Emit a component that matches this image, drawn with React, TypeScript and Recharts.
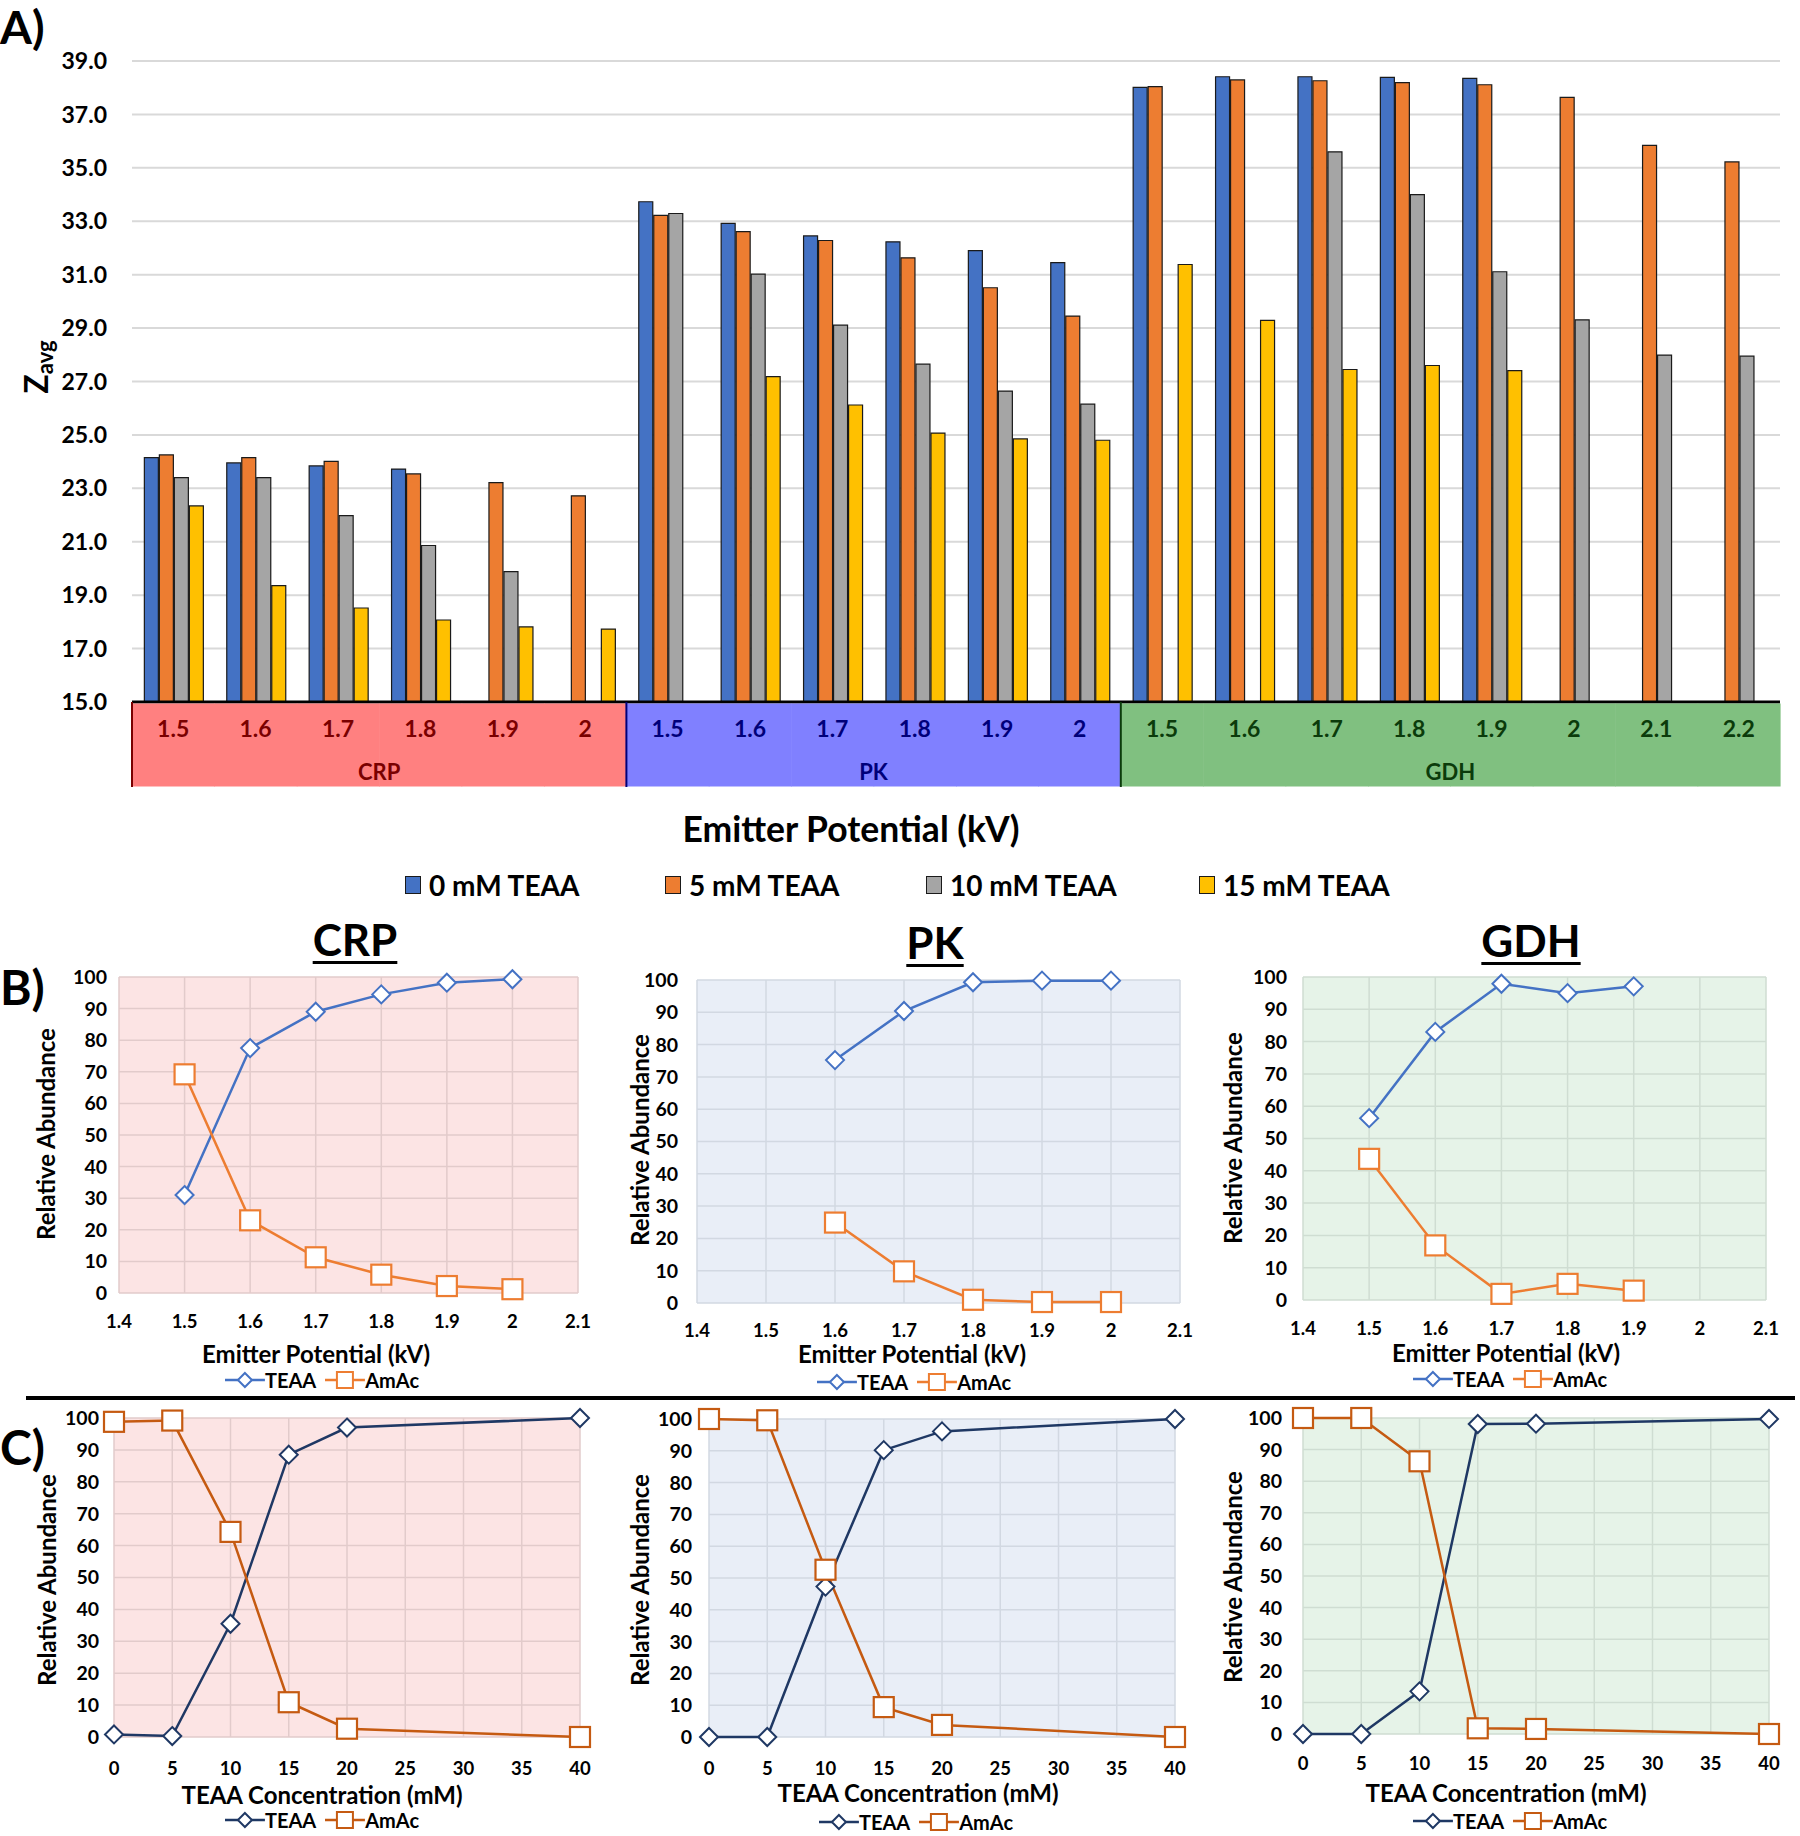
import React from "react";
import { BarChart, Bar, LineChart, Line, XAxis, YAxis, CartesianGrid } from "recharts";

const FONT = "Lato, 'Open Sans', sans-serif";

// ---------- Panel A: Zavg vs emitter potential ----------
const groupNames = ["CRP", "PK", "GDH"];
const crpKv = ["1.5", "1.6", "1.7", "1.8", "1.9", "2"];
const pkKv = ["1.5", "1.6", "1.7", "1.8", "1.9", "2"];
const gdhKv = ["1.5", "1.6", "1.7", "1.8", "1.9", "2", "2.1", "2.2"];

const crp0 = [24.15, 23.95, 23.84, 23.72, null, null];
const crp5 = [24.25, 24.15, 24.01, 23.54, 23.21, 22.72];
const crp10 = [23.4, 23.4, 21.98, 20.86, 19.88, null];
const crp15 = [22.34, 19.36, 18.52, 18.07, 17.81, 17.73];

const pk0 = [33.73, 32.92, 32.45, 32.23, 31.9, 31.45];
const pk5 = [33.22, 32.61, 32.28, 31.63, 30.51, 29.45];
const pk10 = [33.29, 31.02, 29.11, 27.65, 26.64, 26.15];
const pk15 = [null, 27.18, 26.12, 25.07, 24.85, 24.8];

const gdh0 = [38.01, 38.41, 38.41, 38.39, 38.35, null, null, null];
const gdh5 = [38.04, 38.29, 38.26, 38.19, 38.11, 37.64, 35.84, 35.22];
const gdh10 = [null, null, 35.6, 34.0, 31.11, 29.31, 27.99, 27.95];
const gdh15 = [31.38, 29.29, 27.45, 27.6, 27.41, null, null, null];

const zTicks = [15, 17, 19, 21, 23, 25, 27, 29, 31, 33, 35, 37, 39];
const teaaLevels = ["0 mM TEAA", "5 mM TEAA", "10 mM TEAA", "15 mM TEAA"];
const barColors = ["#4472C4", "#ED7D31", "#A5A5A5", "#FFC000"];
const barKeys = ["t0", "t5", "t10", "t15"];

const bandFill: Record<string, string> = { CRP: "#FF8080", PK: "#8080FF", GDH: "#80C080" };
const bandText: Record<string, string> = { CRP: "#7A0000", PK: "#00007A", GDH: "#0B3B0B" };

const groupKv = [crpKv, pkKv, gdhKv];
const zavg: Record<string, (number | null)[][]> = {
  CRP: [crp0, crp5, crp10, crp15],
  PK: [pk0, pk5, pk10, pk15],
  GDH: [gdh0, gdh5, gdh10, gdh15],
};

const barRows = groupNames.flatMap((g, gi) =>
  groupKv[gi].map((kv, i) => ({
    key: `${g} ${kv}`,
    group: g,
    kv,
    pos: i,
    n: groupKv[gi].length,
    t0: zavg[g][0][i],
    t5: zavg[g][1][i],
    t10: zavg[g][2][i],
    t15: zavg[g][3][i],
  }))
);

// ---------- Panel B: relative abundance vs emitter potential ----------
const kvTicks = [1.4, 1.5, 1.6, 1.7, 1.8, 1.9, 2, 2.1];
const abundTicks = [0, 10, 20, 30, 40, 50, 60, 70, 80, 90, 100];

const crpKvB = [1.5, 1.6, 1.7, 1.8, 1.9, 2];
const crpTeaaB = [31, 77.5, 89, 94.5, 98.2, 99.3];
const crpAmacB = [69.2, 23, 11.3, 5.8, 2.2, 1.2];

const pkKvB = [1.6, 1.7, 1.8, 1.9, 2];
const pkTeaaB = [75.2, 90.4, 99.3, 99.8, 99.8];
const pkAmacB = [24.9, 9.8, 1.0, 0.3, 0.3];

const gdhKvB = [1.5, 1.6, 1.7, 1.8, 1.9];
const gdhTeaaB = [56.3, 83, 97.9, 95, 97.1];
const gdhAmacB = [43.7, 16.9, 1.9, 5, 2.9];

// ---------- Panel C: relative abundance vs TEAA concentration ----------
const concTicks = [0, 5, 10, 15, 20, 25, 30, 35, 40];
const teaaConc = [0, 5, 10, 15, 20, 40];

const crpTeaaC = [0.8, 0.3, 35.5, 88.5, 97, 100];
const crpAmacC = [98.8, 99.2, 64.3, 10.9, 2.6, 0];
const pkTeaaC = [0, 0, 47.3, 90.2, 96.1, 100];
const pkAmacC = [100, 99.6, 52.6, 9.4, 3.8, 0];
const gdhTeaaC = [0, 0, 13.5, 98.1, 98.2, 99.7];
const gdhAmacC = [100, 100, 86.3, 1.8, 1.6, 0];

// ---------- helpers ----------
const BandTick = (props: any) => {
  const { x, y, payload } = props;
  const idx = payload?.index ?? props.index;
  const row = barRows[idx];
  if (!row) return <g />;
  const half = payload?.offset ?? 41.2;
  const col = bandText[row.group];
  const labelPos = Math.floor(row.n / 2);
  return (
    <g>
      <rect x={x - half} y={y + 1.5} width={half * 2 + 0.6} height={83} fill={bandFill[row.group]} />
      {row.pos === 0 && <line x1={x - half} x2={x - half} y1={y} y2={y + 85} stroke={col} strokeWidth={2} />}
      <text x={x} y={y + 26} textAnchor="middle" dominantBaseline="central" fontSize={23} fontWeight={700} fill={col}>
        {row.kv}
      </text>
      {row.pos === labelPos && (
        <text
          x={row.n % 2 === 0 ? x - half : x}
          y={y + 69}
          textAnchor="middle"
          dominantBaseline="central"
          fontSize={22}
          fontWeight={700}
          fill={col}
        >
          {row.group}
        </text>
      )}
    </g>
  );
};

const diamondDot = (color: string) => (p: any) => {
  const { cx, cy, index } = p;
  if (cx == null || cy == null) return <g key={`dd-${index}`} />;
  return (
    <path
      key={`dd-${index}`}
      d={`M${cx},${cy - 9}L${cx + 9},${cy}L${cx},${cy + 9}L${cx - 9},${cy}Z`}
      fill="#fff"
      stroke={color}
      strokeWidth={2}
    />
  );
};

const squareDot = (color: string) => (p: any) => {
  const { cx, cy, index } = p;
  if (cx == null || cy == null) return <g key={`sq-${index}`} />;
  return <rect key={`sq-${index}`} x={cx - 10} y={cy - 10} width={20} height={20} fill="#fff" stroke={color} strokeWidth={2.2} />;
};

const Txt = ({ x, y, size, rotate, style, children }: any) => (
  <div
    style={{
      position: "absolute",
      left: x,
      top: y,
      transform: `translate(-50%, -50%)${rotate ? " rotate(-90deg)" : ""}`,
      fontSize: size,
      fontWeight: 700,
      whiteSpace: "nowrap",
      lineHeight: 1,
      ...style,
    }}
  >
    {children}
  </div>
);

const LineLegend = ({ x, y, teaaColor, amacColor }: any) => (
  <div
    style={{
      position: "absolute",
      left: x,
      top: y,
      transform: "translate(-50%, -50%)",
      display: "flex",
      alignItems: "center",
      fontSize: 20,
      fontWeight: 700,
      whiteSpace: "nowrap",
      lineHeight: 1,
    }}
  >
    <svg width={40} height={20}>
      <line x1={0} x2={40} y1={10} y2={10} stroke={teaaColor} strokeWidth={2.5} />
      <path d="M20,3L27,10L20,17L13,10Z" fill="#fff" stroke={teaaColor} strokeWidth={2} />
    </svg>
    <span style={{ marginRight: 9 }}>TEAA</span>
    <svg width={40} height={20}>
      <line x1={0} x2={40} y1={10} y2={10} stroke={amacColor} strokeWidth={2.5} />
      <rect x={12} y={2} width={16} height={16} fill="#fff" stroke={amacColor} strokeWidth={2} />
    </svg>
    <span>AmAc</span>
  </div>
);

type SmallProps = {
  plot: [number, number, number, number];
  xs: number[];
  teaa: number[];
  amac: number[];
  xDomain: [number, number];
  xTicks: number[];
  bg: string;
  grid: string;
  teaaColor: string;
  amacColor: string;
  yGap: number;
  xGap: number;
};

function SmallChart(p: SmallProps) {
  const [x0, y0, x1, y1] = p.plot;
  const YW = 80;
  const XH = 50;
  const PAD = 14;
  const rows = p.xs.map((x, i) => ({ x, teaa: p.teaa[i], amac: p.amac[i] }));
  return (
    <div style={{ position: "absolute", left: x0 - YW, top: y0 - PAD }}>
      <LineChart
        width={x1 - x0 + YW + PAD}
        height={y1 - y0 + PAD + XH}
        data={rows}
        margin={{ top: PAD, right: PAD, bottom: 0, left: 0 }}
      >
        <CartesianGrid fill={p.bg} stroke={p.grid} strokeWidth={1.5} />
        <XAxis
          type="number"
          dataKey="x"
          domain={p.xDomain}
          ticks={p.xTicks}
          interval={0}
          tickFormatter={(v) => String(v)}
          axisLine={false}
          tickLine={false}
          tickSize={0}
          tickMargin={p.xGap}
          height={XH}
          tick={{ fontSize: 18.5, fontWeight: 700, fill: "#000" }}
        />
        <YAxis
          type="number"
          domain={[0, 100]}
          ticks={abundTicks}
          interval={0}
          axisLine={false}
          tickLine={false}
          tickSize={0}
          tickMargin={p.yGap}
          width={YW}
          tick={{ fontSize: 19.5, fontWeight: 700, fill: "#000" }}
        />
        <Line
          dataKey="teaa"
          type="linear"
          stroke={p.teaaColor}
          strokeWidth={2.5}
          dot={diamondDot(p.teaaColor)}
          activeDot={false}
          isAnimationActive={false}
        />
        <Line
          dataKey="amac"
          type="linear"
          stroke={p.amacColor}
          strokeWidth={2.5}
          dot={squareDot(p.amacColor)}
          activeDot={false}
          isAnimationActive={false}
        />
      </LineChart>
    </div>
  );
}

const B_TEAA = "#4472C4";
const B_AMAC = "#ED7D31";
const C_TEAA = "#1F3864";
const C_AMAC = "#C55A11";

const bgCRP = "#FCE4E4";
const bgPK = "#E9EEF7";
const bgGDH = "#E6F3E8";
const gridCRP = "#E2CBCB";
const gridPK = "#D2D8E2";
const gridGDH = "#CFDDD2";

export default function App() {
  return (
    <div
      style={{
        position: "absolute",
        left: 0,
        top: 0,
        width: 1800,
        height: 1836,
        background: "#fff",
        fontFamily: FONT,
        color: "#000",
        overflow: "hidden",
      }}
    >
      {/* Panel A */}
      <div style={{ position: "absolute", left: 0, top: 0 }}>
        <BarChart
          width={1800}
          height={800}
          data={barRows}
          margin={{ top: 61, right: 20, left: 0, bottom: 13 }}
          barCategoryGap="15%"
          barGap={1}
        >
          <CartesianGrid vertical={false} stroke="#D9D9D9" strokeWidth={2} />
          <XAxis
            dataKey="key"
            interval={0}
            height={85}
            tickLine={false}
            tickSize={0}
            tickMargin={0}
            axisLine={{ stroke: "#000", strokeWidth: 3 }}
            tick={<BandTick />}
          />
          <YAxis
            domain={[15, 39]}
            ticks={zTicks}
            interval={0}
            width={132}
            axisLine={false}
            tickLine={false}
            tickSize={0}
            tickMargin={25}
            tickFormatter={(v) => Number(v).toFixed(1)}
            tick={{ fontSize: 23, fontWeight: 700, fill: "#000" }}
          />
          {barKeys.map((k, i) => (
            <Bar
              key={k}
              dataKey={k}
              name={teaaLevels[i]}
              fill={barColors[i]}
              stroke="#1A1A1A"
              strokeWidth={1.2}
              isAnimationActive={false}
            />
          ))}
        </BarChart>
      </div>

      <div style={{ position: "absolute", left: 0, top: 4, fontSize: 46, fontWeight: 700, lineHeight: 1 }}>
        A)
      </div>
      <Txt x={38} y={367} size={32} rotate>
        Z<sub style={{ fontSize: 22, verticalAlign: "-0.25em" }}>avg</sub>
      </Txt>
      <Txt x={851} y={829} size={35.5}>
        Emitter Potential (kV)
      </Txt>

      {/* Panel A legend */}
      {teaaLevels.map((t, i) => (
        <div
          key={t}
          style={{
            position: "absolute",
            left: [405, 665, 926, 1199][i],
            top: 885,
            transform: "translateY(-50%)",
            display: "flex",
            alignItems: "center",
            fontSize: 28,
            fontWeight: 700,
            lineHeight: 1,
            whiteSpace: "nowrap",
          }}
        >
          <span
            style={{
              display: "inline-block",
              width: 14,
              height: 16,
              background: barColors[i],
              border: "1.5px solid #1A1A1A",
              marginRight: 8,
            }}
          />
          {t}
        </div>
      ))}

      {/* Panel B */}
      <div style={{ position: "absolute", left: 0, top: 987, transform: "translateY(-50%)", fontSize: 48, fontWeight: 700, lineHeight: 1 }}>
        B)
      </div>
      {[
        ["CRP", 355, 939],
        ["PK", 935, 942],
        ["GDH", 1531, 940],
      ].map(([t, x, y]) => (
        <Txt key={t as string} x={x} y={y} size={44} style={{ textDecoration: "underline", textDecorationThickness: 3, textUnderlineOffset: 5 }}>
          {t}
        </Txt>
      ))}

      <SmallChart
        plot={[119, 977, 578, 1293]}
        xs={crpKvB}
        teaa={crpTeaaB}
        amac={crpAmacB}
        xDomain={[1.4, 2.1]}
        xTicks={kvTicks}
        bg={bgCRP}
        grid={gridCRP}
        teaaColor={B_TEAA}
        amacColor={B_AMAC}
        yGap={12}
        xGap={22}
      />
      <SmallChart
        plot={[697, 980, 1180, 1303]}
        xs={pkKvB}
        teaa={pkTeaaB}
        amac={pkAmacB}
        xDomain={[1.4, 2.1]}
        xTicks={kvTicks}
        bg={bgPK}
        grid={gridPK}
        teaaColor={B_TEAA}
        amacColor={B_AMAC}
        yGap={19}
        xGap={21}
      />
      <SmallChart
        plot={[1303, 977, 1766, 1300]}
        xs={gdhKvB}
        teaa={gdhTeaaB}
        amac={gdhAmacB}
        xDomain={[1.4, 2.1]}
        xTicks={kvTicks}
        bg={bgGDH}
        grid={gridGDH}
        teaaColor={B_TEAA}
        amacColor={B_AMAC}
        yGap={16}
        xGap={22}
      />

      <Txt x={46} y={1134} size={24} rotate>Relative Abundance</Txt>
      <Txt x={640} y={1140} size={24} rotate>Relative Abundance</Txt>
      <Txt x={1233} y={1138} size={24} rotate>Relative Abundance</Txt>
      <Txt x={316} y={1354} size={24}>Emitter Potential (kV)</Txt>
      <Txt x={912} y={1354} size={24}>Emitter Potential (kV)</Txt>
      <Txt x={1506} y={1353} size={24}>Emitter Potential (kV)</Txt>
      <LineLegend x={322} y={1380} teaaColor={B_TEAA} amacColor={B_AMAC} />
      <LineLegend x={914} y={1382} teaaColor={B_TEAA} amacColor={B_AMAC} />
      <LineLegend x={1510} y={1379} teaaColor={B_TEAA} amacColor={B_AMAC} />

      {/* divider */}
      <div style={{ position: "absolute", left: 26, top: 1396, width: 1769, height: 4, background: "#000" }} />

      {/* Panel C */}
      <div style={{ position: "absolute", left: 0, top: 1447, transform: "translateY(-50%)", fontSize: 48, fontWeight: 700, lineHeight: 1 }}>
        C)
      </div>
      <SmallChart
        plot={[114, 1418, 580, 1737]}
        xs={teaaConc}
        teaa={crpTeaaC}
        amac={crpAmacC}
        xDomain={[0, 40]}
        xTicks={concTicks}
        bg={bgCRP}
        grid={gridCRP}
        teaaColor={C_TEAA}
        amacColor={C_AMAC}
        yGap={15}
        xGap={25}
      />
      <SmallChart
        plot={[709, 1419, 1175, 1737]}
        xs={teaaConc}
        teaa={pkTeaaC}
        amac={pkAmacC}
        xDomain={[0, 40]}
        xTicks={concTicks}
        bg={bgPK}
        grid={gridPK}
        teaaColor={C_TEAA}
        amacColor={C_AMAC}
        yGap={17}
        xGap={25}
      />
      <SmallChart
        plot={[1303, 1418, 1769, 1734]}
        xs={teaaConc}
        teaa={gdhTeaaC}
        amac={gdhAmacC}
        xDomain={[0, 40]}
        xTicks={concTicks}
        bg={bgGDH}
        grid={gridGDH}
        teaaColor={C_TEAA}
        amacColor={C_AMAC}
        yGap={21}
        xGap={23}
      />

      <Txt x={47} y={1580} size={24} rotate>Relative Abundance</Txt>
      <Txt x={640} y={1580} size={24} rotate>Relative Abundance</Txt>
      <Txt x={1233} y={1577} size={24} rotate>Relative Abundance</Txt>
      <Txt x={322} y={1795} size={24}>TEAA Concentration (mM)</Txt>
      <Txt x={918} y={1793} size={24}>TEAA Concentration (mM)</Txt>
      <Txt x={1506} y={1793} size={24}>TEAA Concentration (mM)</Txt>
      <LineLegend x={322} y={1820} teaaColor={C_TEAA} amacColor={C_AMAC} />
      <LineLegend x={916} y={1822} teaaColor={C_TEAA} amacColor={C_AMAC} />
      <LineLegend x={1510} y={1821} teaaColor={C_TEAA} amacColor={C_AMAC} />
    </div>
  );
}
